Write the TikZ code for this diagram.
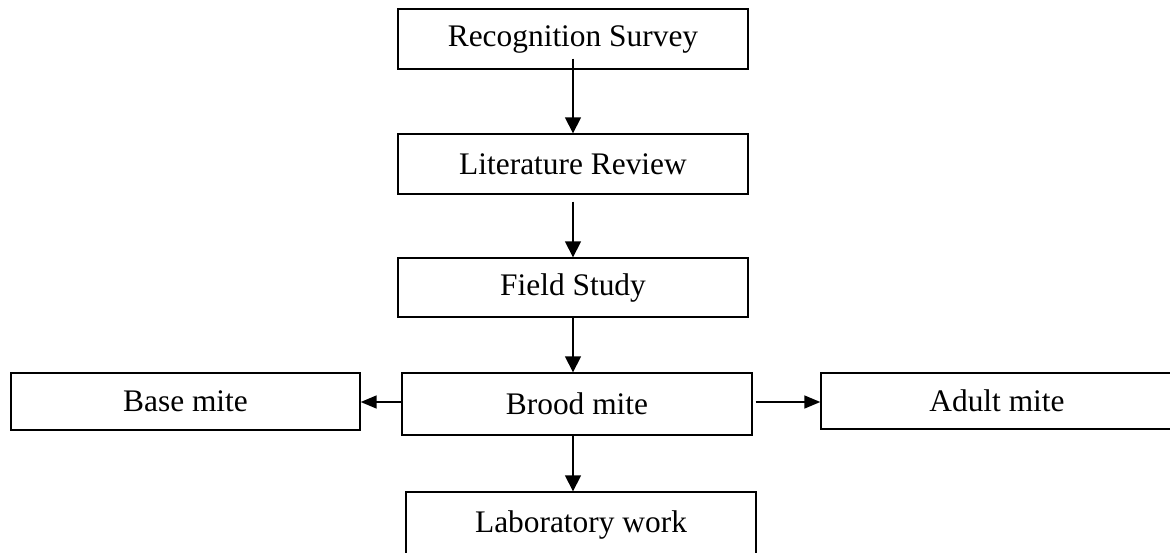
\documentclass[tikz,border=0pt]{standalone}
\usepackage{fontspec}
\setmainfont{Liberation Serif}
\usetikzlibrary{arrows.meta}
\begin{document}
\begin{tikzpicture}[x=1pt,y=-1pt,
  stepbox/.style={draw=black,line width=1.4pt,rectangle,inner sep=0pt,
    font=\fontsize{31.4}{36}\selectfont},
  arr/.style={line width=1.6pt,-{Triangle[width=16pt,length=16pt]}},
  harr/.style={line width=1.6pt,-{Triangle[width=13pt,length=16pt]}}]
\clip (0,0) rectangle (1170,552);
\fill[white] (0,0) rectangle (1170,552);
\node[stepbox,minimum width=350pt,minimum height=60pt] (rec) at (573,39) {Recognition Survey};
\node[stepbox,minimum width=350pt,minimum height=60pt] (lit) at (573,164) {Literature Review};
\node[stepbox,minimum width=350pt,minimum height=59pt] (field) at (573,287.5) {Field Study};
\node[stepbox,minimum width=350pt,minimum height=62pt] (brood) at (577,404) {Brood mite};
\node[stepbox,minimum width=349pt,minimum height=57pt] (base) at (185.5,401.5) {Base mite};
\node[stepbox,minimum width=370pt,minimum height=56pt] (adult) at (1006,401) {\hspace*{-18pt}Adult mite};
\node[stepbox,minimum width=350pt,minimum height=66pt] (lab) at (581,525) {Laboratory work};
\draw[arr] ([yshift=11pt]rec.south) -- (lit.north);
\draw[arr] ([yshift=-7pt]lit.south) -- (field.north);
\draw[arr] (field.south) -- (field.south |- brood.north);
\draw[arr] (field.south |- brood.south) -- (field.south |- lab.north);
\draw[harr] ([yshift=2pt]brood.west) -- ([yshift=2pt]brood.west -| base.east);
\draw[harr] ([xshift=3pt,yshift=2pt]brood.east) -- ([yshift=2pt]brood.east -| adult.west);
\end{tikzpicture}
\end{document}
